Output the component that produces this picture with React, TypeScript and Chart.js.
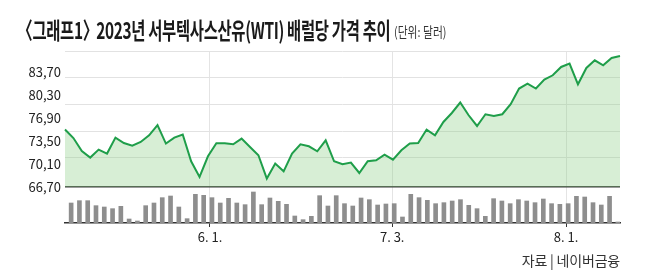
import React, { useEffect, useRef } from 'react';
import { Chart, registerables } from 'chart.js';

Chart.register(...registerables);

// WTI price per barrel (USD)
const priceValues = [
  75.19, 73.94, 72.02, 71.05, 72.23, 71.64, 74.0, 73.2, 72.82, 73.35, 74.34, 75.86,
  73.12, 74.0, 74.45, 70.5, 68.18, 71.24, 73.16, 73.16, 73.01, 73.85, 72.61,
  71.39, 67.94, 70.16, 69.02, 71.64, 73.01, 72.72, 71.98, 73.6, 70.5, 70.06,
  70.31, 68.77, 70.5, 70.65, 71.49, 70.75, 72.13, 73.12, 73.2, 75.19,
  74.34, 76.31, 77.64, 79.18, 77.3, 75.72, 77.45, 77.2, 77.45, 78.93, 81.25,
  81.99, 81.25, 82.58, 83.21, 84.44, 84.94, 81.88, 84.29, 85.43, 84.69, 85.77, 86.06,
];

// Trading volume (relative units)
const volumeValues = [
  60, 67, 67, 52, 48, 43, 50, 12, 6, 52, 60, 76, 81, 48, 13, 86, 83, 76, 60, 74, 60, 55,
  93, 55, 75, 65, 56, 21, 10, 20, 82, 51, 82, 58, 51, 75, 70, 54, 57, 58, 18, 86, 76, 68,
  58, 61, 66, 70, 53, 43, 20, 73, 66, 58, 70, 66, 61, 72, 58, 56, 58, 80, 78, 61, 54, 80, 3,
];

const tickLabels = ['6. 1.', '7. 3.', '8. 1.'];
const tickIndices = [17, 39, 60];
const yTickValues = [66.7, 70.1, 73.5, 76.9, 80.3, 83.7];
const gridValues = [66.7, 71.0, 74.95, 78.9, 82.85, 86.8];
const Y_MIN = 61.38;
const Y_MAX = 86.8;
const BASE = 66.7;

const categories = priceValues.map((_, i) => {
  const k = tickIndices.indexOf(i);
  return k >= 0 ? tickLabels[k] : `d${i}`;
});

const FONT = "'Noto Sans CJK KR', 'Noto Sans', sans-serif";

export default function App() {
  const ref = useRef<HTMLCanvasElement | null>(null);

  useEffect(() => {
    if (!ref.current) return;
    const chart = new Chart(ref.current, {
      type: 'bar',
      data: {
        labels: categories,
        datasets: [
          {
            type: 'line',
            data: priceValues,
            borderColor: '#1f9e4a',
            borderWidth: 2,
            pointRadius: 0,
            tension: 0,
            fill: { value: BASE },
            backgroundColor: 'rgba(140,205,135,0.35)',
            xAxisID: 'x',
            yAxisID: 'y',
          } as any,
          {
            type: 'bar',
            data: volumeValues,
            backgroundColor: '#8e8e8e',
            barThickness: 4,
            xAxisID: 'x2',
            yAxisID: 'y2',
          } as any,
        ],
      },
      options: {
        responsive: false,
        animation: false,
        events: [],
        layout: { padding: { top: 51, right: 30, left: 0, bottom: 0 } },
        plugins: { legend: { display: false }, tooltip: { enabled: false }, title: { display: false } },
        scales: {
          x: { type: 'category', display: false, offset: false },
          x2: {
            type: 'category',
            position: 'bottom',
            offset: true,
            grid: {
              display: true,
              offset: false,
              color: '#e4e4e4',
              tickColor: '#333',
              tickLength: 4,
              drawOnChartArea: true,
            },
            border: { display: true, color: '#333', width: 1.5 },
            ticks: {
              autoSkip: false,
              maxRotation: 0,
              padding: 2,
              color: '#222',
              font: { family: FONT, size: 13 },
              callback: (v: any) => categories[v],
            },
            afterBuildTicks: (s: any) => {
              s.ticks = tickIndices.map((i) => ({ value: i }));
            },
            afterFit: (s: any) => {
              s.height = 48;
            },
          },
          y: {
            type: 'linear',
            position: 'left',
            min: Y_MIN,
            max: Y_MAX,
            afterBuildTicks: (s: any) => {
              s.ticks = yTickValues.map((v) => ({ value: v }));
            },
            ticks: {
              padding: 4,
              color: '#222',
              font: { family: FONT, size: 13 },
              callback: (v: any) => Number(v).toFixed(2).replace('.', ','),
            },
            grid: { display: false, drawTicks: false },
            border: { display: false },
            afterFit: (s: any) => {
              s.width = 65;
            },
          },
          yg: {
            type: 'linear',
            position: 'left',
            min: Y_MIN,
            max: Y_MAX,
            afterBuildTicks: (s: any) => {
              s.ticks = gridValues.map((v) => ({ value: v }));
            },
            ticks: { display: false },
            grid: {
              drawTicks: false,
              color: (ctx: any) => (ctx.tick && ctx.tick.value === BASE ? '#3a3a3a' : '#e2e2e2'),
              lineWidth: (ctx: any) => (ctx.tick && ctx.tick.value === BASE ? 1.5 : 1),
            },
            border: { display: false },
            afterFit: (s: any) => {
              s.width = 0;
            },
          },
          y2: { type: 'linear', display: false, min: 0, max: 516 },
        } as any,
      },
    });
    return () => chart.destroy();
  }, []);

  return (
    <div style={{ position: 'fixed', left: 0, top: 0, width: 650, height: 271, background: '#fff', overflow: 'hidden' }}>
      <canvas ref={ref} width={650} height={271} style={{ position: 'absolute', left: 0, top: 0 }} />
      <div
        style={{
          position: 'absolute',
          left: 22,
          top: 18,
          fontFamily: FONT,
          fontWeight: 700,
          fontSize: 23,
          lineHeight: '23px',
          color: '#1a1a1a',
          whiteSpace: 'nowrap',
          transform: 'scaleX(0.67)',
          transformOrigin: 'left top',
          letterSpacing: '-0.5px',
        }}
      >
        <span style={{ marginLeft: -7 }}>〈</span>그래프1<span style={{ marginRight: -7 }}>〉</span> 2023년 서부텍사스산유(WTI) 배럴당 가격 추이
      </div>
      <div
        style={{
          position: 'absolute',
          left: 394,
          top: 24,
          fontFamily: FONT,
          fontSize: 13.5,
          lineHeight: '14px',
          color: '#333',
          whiteSpace: 'nowrap',
          transform: 'scaleX(0.8)',
          transformOrigin: 'left top',
        }}
      >
        (단위: 달러)
      </div>
      <div
        style={{
          position: 'absolute',
          right: 30,
          top: 252,
          fontFamily: FONT,
          fontSize: 14,
          lineHeight: '16px',
          color: '#333',
          whiteSpace: 'nowrap',
          letterSpacing: '-0.2px',
        }}
      >
        자료 | 네이버금융
      </div>
    </div>
  );
}
